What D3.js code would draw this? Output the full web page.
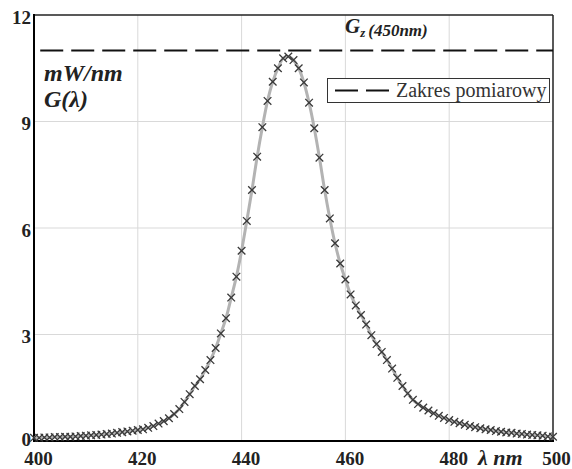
<!DOCTYPE html>
<html><head><meta charset="utf-8">
<script src="https://cdn.jsdelivr.net/npm/d3@7"></script>
<style>
html,body{margin:0;padding:0;background:#fff;}
svg{display:block;}
svg text{font-family:"Liberation Serif","Times New Roman",serif;}
</style></head>
<body>
<svg id="chart" width="572" height="469"></svg>
<script>
// ---- data ----
const wavelengths = d3.range(400, 501); // nm, 1 nm step
const gValues = [
  0.09,0.09,0.10,0.10,0.11,0.11,0.12,0.12,0.13,0.14,
  0.15,0.16,0.17,0.18,0.20,0.21,0.23,0.25,0.27,0.29,
  0.31,0.33,0.37,0.42,0.49,0.56,0.64,0.76,0.90,1.10,
  1.32,1.55,1.74,2.00,2.28,2.62,3.03,3.46,4.04,4.63,
  5.36,6.20,7.07,8.01,8.84,9.58,10.12,10.50,10.78,10.83,
  10.73,10.50,10.10,9.53,8.81,7.98,7.07,6.27,5.57,5.00,
  4.55,4.13,3.82,3.55,3.28,2.98,2.73,2.51,2.28,2.04,
  1.78,1.55,1.34,1.16,1.04,0.94,0.86,0.78,0.71,0.65,
  0.59,0.54,0.50,0.46,0.42,0.39,0.36,0.33,0.31,0.28,
  0.26,0.24,0.23,0.21,0.20,0.18,0.17,0.16,0.15,0.13,0.12
];
const rangeLevel = 11.0;            // Gz(450nm) – measuring range
const xTicks = [400, 420, 440, 460, 480, 500];
const yTicks = [0, 3, 6, 9, 12];
const legendLabel = "Zakres pomiarowy";

// ---- layout ----
const svg = d3.select("#chart");
const L = 34, R = 553, T = 15, B = 441;
const x = d3.scaleLinear().domain([400, 500]).range([L, R]);
const y = d3.scaleLinear().domain([0, 12]).range([B, T]);
const serif = '"Liberation Serif","Times New Roman",serif';
function tx(sel){ return sel.style("font-family", serif); }

// grid
svg.append("g").selectAll("line").data(xTicks.filter(d => d > 400 && d < 500)).join("line")
  .attr("x1", d => x(d)).attr("x2", d => x(d)).attr("y1", T).attr("y2", B)
  .attr("stroke", "#d9d9d9").attr("stroke-width", 1);
svg.append("g").selectAll("line").data(yTicks.filter(d => d > 0 && d < 12)).join("line")
  .attr("x1", L).attr("x2", R).attr("y1", d => y(d)).attr("y2", d => y(d))
  .attr("stroke", "#d9d9d9").attr("stroke-width", 1);

// frame
svg.append("line").attr("x1", L).attr("x2", R).attr("y1", T).attr("y2", T).attr("stroke", "#222").attr("stroke-width", 1.5);
svg.append("line").attr("x1", R).attr("x2", R).attr("y1", T).attr("y2", B).attr("stroke", "#222").attr("stroke-width", 1.5);
svg.append("line").attr("x1", L).attr("x2", L).attr("y1", T - 1).attr("y2", B + 1).attr("stroke", "#000").attr("stroke-width", 2);
svg.append("line").attr("x1", L - 1).attr("x2", R + 1).attr("y1", B).attr("y2", B).attr("stroke", "#000").attr("stroke-width", 2);

// axes labels via d3 axes
const xAxis = svg.append("g").attr("transform", `translate(4,${B})`)
  .call(d3.axisBottom(x).tickValues(xTicks).tickSize(0).tickPadding(11).tickFormat(d3.format("d")));
xAxis.select(".domain").remove();
tx(xAxis.selectAll("text")).attr("font-weight", "bold")
  .attr("font-size", 19).attr("fill", "#222");
xAxis.selectAll(".tick").filter(d => d === 500).select("text").attr("dx", -1);

const yAxis = svg.append("g").attr("transform", `translate(${L - 3},2)`)
  .call(d3.axisLeft(y).tickValues(yTicks).tickSize(0).tickPadding(0).tickFormat(d3.format("d")));
yAxis.select(".domain").remove();
tx(yAxis.selectAll("text")).attr("font-weight", "bold")
  .attr("font-size", 19).attr("fill", "#222");
yAxis.selectAll(".tick").filter(d => d === 0).select("text").attr("dy", "0.15em");

// axis titles
tx(svg.append("text")).attr("x", 478).attr("y", 465)
  .attr("font-weight", "bold").attr("font-style", "italic")
  .attr("font-size", 22).attr("fill", "#222").text("λ nm");
tx(svg.append("text")).attr("x", 44).attr("y", 81)
  .attr("font-weight", "bold").attr("font-style", "italic")
  .attr("font-size", 24).attr("fill", "#222").text("mW/nm");
tx(svg.append("text")).attr("x", 44).attr("y", 107)
  .attr("font-weight", "bold").attr("font-style", "italic")
  .attr("font-size", 24).attr("fill", "#222").text("G(λ)");

// Gz label
const gz = tx(svg.append("text")).attr("x", 345).attr("y", 33)
  .attr("font-weight", "bold").attr("font-style", "italic")
  .attr("fill", "#222");
gz.append("tspan").attr("font-size", 21).text("G");
gz.append("tspan").attr("font-size", 13).attr("dy", 4).text("z");
gz.append("tspan").attr("font-size", 17).attr("dy", -1).attr("dx", 3).text("(450nm)");

// measuring range dashed line
svg.append("line").attr("x1", x(401.2)).attr("x2", R).attr("y1", y(rangeLevel)).attr("y2", y(rangeLevel))
  .attr("stroke", "#111").attr("stroke-width", 2).attr("stroke-dasharray", "23,8");

// curve
const line = d3.line().x((d, i) => x(wavelengths[i])).y(d => y(d)).curve(d3.curveCatmullRom);
svg.append("path").datum(gValues).attr("d", line)
  .attr("fill", "none").attr("stroke", "#b3b3b3").attr("stroke-width", 3);

// markers
const s = 3.8;
const mk = svg.append("g").attr("stroke", "#3a3a3a").attr("stroke-width", 1.3).attr("fill", "none");
mk.selectAll("path").data(gValues).join("path")
  .attr("d", (d, i) => {
    const cx = x(wavelengths[i]), cy = y(d);
    return `M${cx - s},${cy - s}L${cx + s},${cy + s}M${cx - s},${cy + s}L${cx + s},${cy - s}`;
  });

// legend
const lg = svg.append("g");
lg.append("rect").attr("x", 327.5).attr("y", 78.5).attr("width", 222).attr("height", 24)
  .attr("fill", "#fff").attr("stroke", "#333").attr("stroke-width", 1);
lg.append("line").attr("x1", 335).attr("x2", 389).attr("y1", 90.5).attr("y2", 90.5)
  .attr("stroke", "#111").attr("stroke-width", 2).attr("stroke-dasharray", "23,8");
tx(lg.append("text")).attr("x", 396).attr("y", 97)
  .attr("font-size", 20).attr("fill", "#333").text(legendLabel);
</script>
</body></html>
